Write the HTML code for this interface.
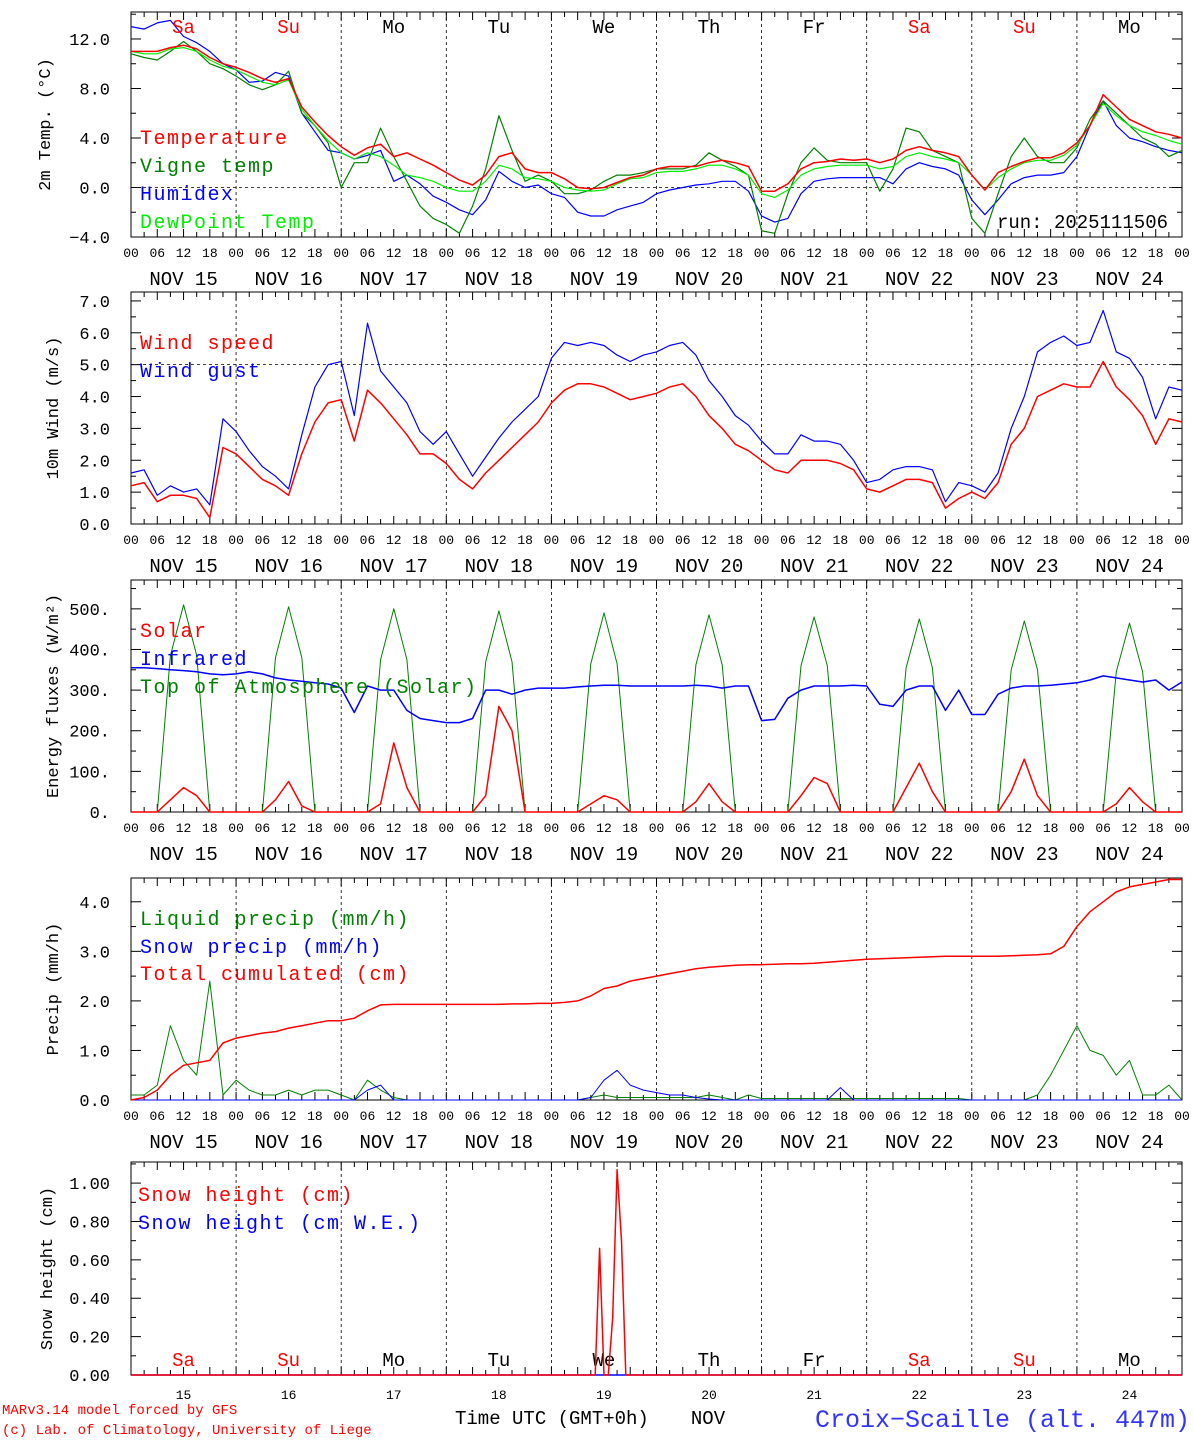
<!DOCTYPE html>
<html><head><meta charset="utf-8">
<style>
html,body{margin:0;padding:0;background:#fff;}
svg{display:block;}
text{font-family:"Liberation Mono","DejaVu Sans Mono",monospace;}
.leg{letter-spacing:1.5px;}
</style></head>
<body>
<svg id="chart" width="1194" height="1440" viewBox="0 0 1194 1440" xmlns="http://www.w3.org/2000/svg"></svg>
<script>
// ---------- DATA (3-hourly, 81 points from Nov 15 00 UTC to Nov 25 00 UTC) ----------
const days = ["15","16","17","18","19","20","21","22","23","24"];
const dayNames = ["Sa","Su","Mo","Tu","We","Th","Fr","Sa","Su","Mo"];
const tempTicks = [-4,0,4,8,12];
const tempTickLabels = ["\u22124.0","0.0","4.0","8.0","12.0"];
const windTicks = [0,1,2,3,4,5,6,7];
const windTickLabels = ["0.0","1.0","2.0","3.0","4.0","5.0","6.0","7.0"];
const fluxTicks = [0,100,200,300,400,500];
const fluxTickLabels = ["0.","100.","200.","300.","400.","500."];
const precTicks = [0,1,2,3,4];
const precTickLabels = ["0.0","1.0","2.0","3.0","4.0"];
const snowTicks = [0,0.2,0.4,0.6,0.8,1.0];
const snowTickLabels = ["0.00","0.20","0.40","0.60","0.80","1.00"];

const temperature = [11.0,11.0,11.0,11.3,11.5,11.2,10.5,10.0, 9.7,9.3,8.8,8.5,8.8,6.5,5.3,4.2, 3.3,2.6,3.2,3.5,2.5,2.8,2.3,1.8, 1.2,0.6,0.2,1.0,2.5,2.8,1.5,1.2, 1.2,0.7,0.0,-0.1,0.0,0.4,0.8,1.0, 1.5,1.7,1.7,1.7,2.0,2.2,2.0,1.7, -0.3,-0.3,0.3,1.5,2.0,2.1,2.3,2.2, 2.3,2.0,2.3,3.0,3.3,3.0,2.8,2.5, 1.0,-0.2,1.2,1.7,2.1,2.4,2.4,2.8, 3.6,5.0,7.5,6.5,5.5,5.0,4.5,4.3,4.0];
const vigneTemp = [10.8,10.5,10.3,11.0,11.8,11.0,10.0,9.6, 9.0,8.3,7.9,8.3,9.4,6.0,5.0,3.6, 0.0,2.0,2.0,4.8,2.5,0.5,-1.5,-2.5, -3.0,-3.7,-1.5,1.5,5.8,3.0,0.5,1.0, 0.5,-0.5,-0.5,-0.2,0.5,1.0,1.0,1.2, 1.5,1.5,1.5,1.8,2.8,2.2,1.7,1.0, -3.5,-3.7,-0.5,2.0,3.2,2.2,2.0,2.0, 2.0,-0.3,1.5,4.8,4.5,3.0,2.5,2.0, -2.5,-3.7,-0.5,2.5,4.0,2.5,2.0,2.0, 3.2,5.5,7.0,6.0,5.0,4.0,3.5,2.5,3.0];
const humidex = [13.0,12.8,13.3,13.5,12.2,11.7,11.0,10.0, 9.5,8.5,8.6,9.3,9.0,6.0,4.5,3.0, 2.8,2.3,2.6,3.0,0.5,1.0,0.3,-0.7, -1.2,-1.8,-2.2,-1.0,1.3,0.5,0.0,0.2, -0.5,-0.8,-2.0,-2.3,-2.3,-1.8,-1.5,-1.2, -0.5,-0.2,0.0,0.2,0.3,0.5,0.5,-0.3, -2.3,-2.8,-2.5,-0.5,0.5,0.7,0.8,0.8, 0.8,0.8,0.3,1.5,2.0,1.7,1.5,1.0, -1.0,-2.2,-1.0,0.3,0.8,1.0,1.0,1.2, 2.5,5.0,7.0,5.0,4.0,3.7,3.3,3.0,2.8];
const dewPoint = [11.0,10.8,10.8,11.2,11.3,11.0,10.3,9.8, 9.5,9.0,8.5,8.3,8.7,6.3,5.0,3.8, 2.8,2.3,2.8,2.5,1.8,1.0,0.8,0.5, 0.0,-0.3,-0.3,0.5,1.8,1.5,0.8,0.7, 0.5,0.0,-0.2,-0.3,-0.2,0.3,0.7,0.8, 1.2,1.3,1.3,1.5,1.8,1.8,1.5,1.0, -0.5,-0.8,-0.2,1.0,1.5,1.7,1.8,1.8, 1.8,1.5,1.7,2.5,2.8,2.5,2.3,2.0, 1.0,-0.2,0.8,1.5,2.0,2.2,2.2,2.6, 3.4,5.0,6.8,5.8,5.0,4.5,4.2,3.8,3.5];

const windSpeed = [1.2,1.3,0.7,0.9,0.9,0.8,0.2,2.4, 2.2,1.8,1.4,1.2,0.9,2.2,3.2,3.8, 3.9,2.6,4.2,3.8,3.3,2.8,2.2,2.2, 1.9,1.4,1.1,1.6,2.0,2.4,2.8,3.2, 3.8,4.2,4.4,4.4,4.3,4.1,3.9,4.0, 4.1,4.3,4.4,4.0,3.4,3.0,2.5,2.3, 2.0,1.7,1.6,2.0,2.0,2.0,1.9,1.7, 1.1,1.0,1.2,1.4,1.4,1.3,0.5,0.8, 1.0,0.8,1.3,2.5,3.0,4.0,4.2,4.4, 4.3,4.3,5.1,4.3,3.9,3.4,2.5,3.3,3.2];
const windGust = [1.6,1.7,0.9,1.2,1.0,1.1,0.6,3.3, 2.9,2.3,1.8,1.5,1.1,2.8,4.3,5.0, 5.1,3.4,6.3,4.8,4.3,3.8,2.9,2.5, 2.9,2.2,1.5,2.1,2.7,3.2,3.6,4.0, 5.2,5.7,5.6,5.7,5.6,5.3,5.1,5.3, 5.4,5.6,5.7,5.3,4.5,4.0,3.4,3.1, 2.6,2.2,2.2,2.8,2.6,2.6,2.5,2.0, 1.3,1.4,1.7,1.8,1.8,1.7,0.7,1.3, 1.2,1.0,1.6,3.0,4.0,5.4,5.7,5.9, 5.6,5.7,6.7,5.4,5.2,4.6,3.3,4.3,4.2];

const solar = [0,0,0,30,60,40,0,0, 0,0,0,30,75,15,0,0, 0,0,0,20,170,60,0,0, 0,0,0,40,260,200,0,0, 0,0,0,20,40,30,0,0, 0,0,0,25,70,25,0,0, 0,0,0,40,85,70,0,0, 0,0,0,60,120,50,0,0, 0,0,0,50,130,40,0,0, 0,0,0,20,60,25,0,0,0];
const infrared = [355,355,353,350,348,345,340,338, 340,345,340,330,325,322,318,315, 305,245,310,300,300,250,230,225, 220,220,230,300,300,290,300,305, 305,305,308,310,312,312,310,310, 310,310,310,312,310,305,310,310, 225,228,280,300,310,310,310,312, 310,265,260,300,310,310,250,300, 240,240,290,305,310,310,312,315, 318,325,335,330,325,320,325,300,320];
const toaSolar = [0,0,0,385,510,385,0,0, 0,0,0,380,505,380,0,0, 0,0,0,375,500,375,0,0, 0,0,0,370,495,370,0,0, 0,0,0,365,490,365,0,0, 0,0,0,362,485,362,0,0, 0,0,0,360,480,360,0,0, 0,0,0,355,475,355,0,0, 0,0,0,350,470,350,0,0, 0,0,0,345,465,345,0,0,0];

const liquidPrecip = [0.1,0.1,0.3,1.5,0.8,0.5,2.4,0.1, 0.4,0.2,0.1,0.1,0.2,0.1,0.2,0.2, 0.1,0.0,0.4,0.2,0.05,0,0,0, 0,0,0,0,0,0,0,0, 0,0,0,0.05,0.1,0.05,0.05,0.05, 0.05,0.05,0.05,0.05,0.1,0.05,0,0.1, 0.03,0.03,0.03,0.03,0.03,0.03,0.03,0.03, 0.03,0.03,0.03,0.03,0.03,0.03,0.03,0.03, 0,0,0,0,0,0.1,0.5,1.0, 1.5,1.0,0.9,0.5,0.8,0.1,0.1,0.3,0];
const snowPrecip = [0,0,0,0,0,0,0,0, 0,0,0,0,0,0,0,0, 0,0,0.2,0.3,0,0,0,0, 0,0,0,0,0,0,0,0, 0,0,0,0.05,0.4,0.6,0.3,0.2, 0.15,0.1,0.1,0.05,0.02,0,0,0, 0,0,0,0,0,0,0.25,0, 0,0,0,0,0,0,0,0, 0,0,0,0,0,0,0,0, 0,0,0,0,0,0,0,0,0];
const totalCumul = [0,0.05,0.2,0.5,0.7,0.75,0.8,1.15, 1.25,1.3,1.35,1.38,1.45,1.5,1.55,1.6, 1.6,1.65,1.8,1.92,1.93,1.93,1.93,1.93, 1.93,1.93,1.93,1.93,1.93,1.94,1.94,1.95, 1.95,1.97,2.0,2.1,2.25,2.3,2.4,2.45, 2.5,2.55,2.6,2.65,2.68,2.7,2.72,2.73, 2.73,2.74,2.75,2.75,2.76,2.78,2.8,2.82, 2.84,2.85,2.86,2.87,2.88,2.89,2.9,2.9, 2.9,2.9,2.9,2.91,2.92,2.93,2.95,3.1, 3.5,3.8,4.0,4.2,4.3,4.35,4.4,4.45,4.45];

const snowHours = [0,106,107,108,109,110,111,112,113,240];
const snowHeight = [0,0,0.66,0,0,0.3,1.07,0.7,0,0];
const snowWE = [0,0,0,0,0,0,0,0,0,0];

// ---------- LAYOUT ----------
const svg = document.getElementById('chart');
const NS = 'http://www.w3.org/2000/svg';
const X0 = 131, X1 = 1182, HOURS = 240;
function xAt(h){ return X0 + (X1 - X0) * h / HOURS; }
function mk(tag, attrs, parent){
  const e = document.createElementNS(NS, tag);
  for (const k in attrs) e.setAttribute(k, attrs[k]);
  (parent || svg).appendChild(e);
  return e;
}
function txt(s, x, y, size, fill, anchor, parent){
  const t = mk('text', {x:x, y:y, 'font-size':size, fill:fill||'#000', 'text-anchor':anchor||'start'}, parent);
  t.textContent = s;
  return t;
}

const panels = [
  {name:'temperature-panel', top:12, bottom:237, vmin:-4, vmax:14.18, ticks:tempTicks, labels:tempTickLabels, minor:2, title:'2m Temp. (\u00B0C)', zero:0},
  {name:'wind-panel', top:292, bottom:524, vmin:0, vmax:7.28, ticks:windTicks, labels:windTickLabels, minor:0.5, title:'10m Wind (m/s)', zero:5},
  {name:'energy-panel', top:580, bottom:812, vmin:0, vmax:571, ticks:fluxTicks, labels:fluxTickLabels, minor:50, title:'Energy fluxes (W/m\u00B2)'},
  {name:'precip-panel', top:878, bottom:1100, vmin:0, vmax:4.48, ticks:precTicks, labels:precTickLabels, minor:0.5, title:'Precip (mm/h)'},
  {name:'snow-panel', top:1162, bottom:1375, vmin:0, vmax:1.11, ticks:snowTicks, labels:snowTickLabels, minor:0.1, title:'Snow height (cm)'}
];

panels.forEach((p, pi) => {
  const g = mk('g', {});
  
  
  p.y = v => p.bottom - (v - p.vmin) / (p.vmax - p.vmin) * (p.bottom - p.top);
  const fr = mk('rect', {x:X0, y:p.top, width:X1-X0, height:p.bottom-p.top, fill:'none', stroke:'#000', 'stroke-width':1}, g);
  
  
  for (let d = 1; d < 10; d++) {
    const x = xAt(d*24);
    mk('line', {x1:x, x2:x, y1:p.top, y2:p.bottom, stroke:'#000', 'stroke-width':0.8, 'stroke-dasharray':'3,3'}, g);
  }
  for (let h = 0; h <= HOURS; h += 3) {
    const x = xAt(h);
    const L = (h % 6 === 0) ? 8 : 5;
    mk('line', {x1:x, x2:x, y1:p.bottom, y2:p.bottom-L, stroke:'#000', 'stroke-width':1}, g);
    mk('line', {x1:x, x2:x, y1:p.top, y2:p.top+L, stroke:'#000', 'stroke-width':1}, g);
  }
  for (let v = p.vmin; v <= p.vmax + 1e-9; v += p.minor) {
    const y = p.y(v);
    const major = p.ticks.some(t => Math.abs(t - v) < 1e-6);
    const L = major ? 10 : 5;
    mk('line', {x1:X0, x2:X0+L, y1:y, y2:y, stroke:'#000', 'stroke-width':1}, g);
    mk('line', {x1:X1, x2:X1-L, y1:y, y2:y, stroke:'#000', 'stroke-width':1}, g);
  }
  p.ticks.forEach((t, i) => {
    const lab = txt(p.labels[i], 110, p.y(t) + 6, 17, '#000', 'end', g);
    
    
  });
  if (p.zero !== undefined) {
    const y = p.y(p.zero);
    mk('line', {x1:X0, x2:X1, y1:y, y2:y, stroke:'#000', 'stroke-width':0.8, 'stroke-dasharray':'3,3'}, g);
  }
  const cy = (p.top + p.bottom) / 2;
  const tt = txt(p.title, 0, 0, 17, '#000', 'middle', g);
  tt.setAttribute('transform', 'translate(' + (pi === 0 ? 50 : (pi===4?52:58)) + ',' + cy + ') rotate(-90)');
  
  
  if (pi < 4) {
    for (let d = 0; d < 10; d++) {
      ['00','06','12','18'].forEach((s, k) => {
        const l = txt(s, xAt(d*24 + k*6), p.bottom + 20, 13, '#000', 'middle', g);
        
        
      });
      const dl = txt('NOV ' + days[d], xAt(d*24 + 12), p.bottom + 48, 19, '#000', 'middle', g);
      
      
    }
    txt('00', X1, p.bottom + 20, 13, '#000', 'middle', g);
  }
});

function series(p, vals, color, name, hours, width){
  const pts = vals.map((v, i) => xAt(hours ? hours[i] : i*3).toFixed(1) + ',' + p.y(v).toFixed(1)).join(' ');
  const pl = mk('polyline', {points:pts, fill:'none', stroke:color, 'stroke-width':width||1.2, 'stroke-linejoin':'round'});
  
  
}
function legend(x, y, s, color){
  const t = txt(s, x, y, 20, color, 'start');
  t.setAttribute('class', 'leg');
  
  
}

const [P1, P2, P3, P4, P5] = panels;
series(P1, humidex, '#0000ff', 'humidex-line');
series(P1, vigneTemp, '#008000', 'vigne-temp-line');
series(P1, dewPoint, '#00ee00', 'dewpoint-line');
series(P1, temperature, '#ff0000', 'temperature-line', null, 1.5);
legend(140, 144, 'Temperature', '#ff0000');
legend(140, 172, 'Vigne temp', '#008000');
legend(140, 200, 'Humidex', '#0000ff');
legend(140, 228, 'DewPoint Temp', '#00ee00');
const run = txt('run: 2025111506', 1168, 228, 19, '#000', 'end');


dayNames.forEach((n, d) => {
  const c = (n === 'Sa' || n === 'Su') ? '#ff0000' : '#000';
  const a = txt(n, xAt(d*24+12), 33, 19, c, 'middle');
  
  
  const b = txt(n, xAt(d*24+12), 1366, 19, c, 'middle');
  
  
  const nb = txt(days[d], xAt(d*24+12), 1399, 13, '#000', 'middle');
  
  
});

series(P2, windGust, '#0000ff', 'wind-gust-line');
series(P2, windSpeed, '#ff0000', 'wind-speed-line', null, 1.5);
legend(140, 349, 'Wind speed', '#ff0000');
legend(140, 377, 'Wind gust', '#0000ff');

series(P3, toaSolar, '#008000', 'toa-solar-line', null, 1);
series(P3, infrared, '#0000ff', 'infrared-line', null, 1.5);
series(P3, solar, '#ff0000', 'solar-line', null, 1.5);
legend(140, 637, 'Solar', '#ff0000');
legend(140, 665, 'Infrared', '#0000ff');
legend(140, 693, 'Top of Atmosphere (Solar)', '#008000');

series(P4, liquidPrecip, '#008000', 'liquid-precip-line', null, 1);
series(P4, snowPrecip, '#0000ff', 'snow-precip-line', null, 1);
series(P4, totalCumul, '#ff0000', 'total-cumulated-line', null, 1.5);
legend(140, 925, 'Liquid precip (mm/h)', '#008000');
legend(140, 953, 'Snow precip (mm/h)', '#0000ff');
legend(140, 980, 'Total cumulated (cm)', '#ff0000');

series(P5, snowWE, '#0000ff', 'snow-we-line', snowHours, 1.5);
series(P5, snowHeight, '#ff0000', 'snow-height-line', snowHours, 1.5);
legend(138, 1201, 'Snow height (cm)', '#ff0000');
legend(138, 1229, 'Snow height (cm W.E.)', '#0000ff');

const xt = txt('Time UTC (GMT+0h)', 455, 1424, 19, '#000', 'start');


const nv = txt('NOV', 708, 1424, 19, '#000', 'middle');


const c1 = txt('MARv3.14 model forced by GFS', 2, 1414, 14, '#ff0000', 'start');


const c2 = txt('(c) Lab. of Climatology, University of Liege', 2, 1434, 14, '#ff0000', 'start');


const st = txt('Croix\u2212Scaille (alt. 447m)', 1190, 1427, 25, '#3333ff', 'end');


</script>
</body></html>
